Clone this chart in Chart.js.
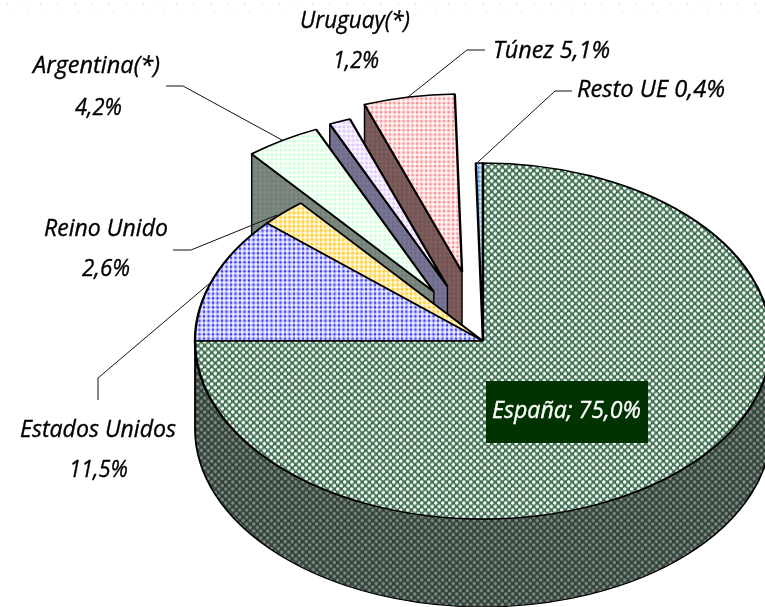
<!DOCTYPE html>
<html><head><meta charset="utf-8">
<style>html,body{margin:0;padding:0;background:#fff}canvas{display:block}</style>
<script src="https://cdn.jsdelivr.net/npm/chart.js@4"></script>
</head><body><canvas id="c" width="765" height="607"></canvas>
<script>
const categories = ['España','Estados Unidos','Reino Unido','Argentina(*)','Uruguay(*)','Túnez','Resto UE'];
const values = [75.0,11.5,2.6,4.2,1.2,5.1,0.4];
const explode = [0,0,0,0.325,0.33,0.395,0];
const tilt = 0.618, depth = 88, FONT = '"Open Sans"';

function tile(size, paint){
  const c = document.createElement('canvas'); c.width = c.height = size;
  const g = c.getContext('2d'); paint(g);
  const p = g.createPattern(c,'repeat');
  p.setTransform(new DOMMatrix().scale(1,1/tilt));
  return p;
}
function dots(bg, mid, dot){
  return tile(9, g=>{
    g.fillStyle=bg; g.fillRect(0,0,9,9);
    g.fillStyle=mid;
    for(const o of [0.5,5]){ g.fillRect(o,0,2,9); g.fillRect(0,o,9,2); }
    g.fillStyle=dot;
    for(const x of [0.5,5]) for(const y of [0.5,5]) g.fillRect(x,y,2,2);
  });
}
function weave(bg, spot){
  return tile(7, g=>{
    g.fillStyle=bg; g.fillRect(0,0,7,7);
    g.fillStyle=spot;
    for(const [x,y] of [[1,1],[4.5,4.5]]){
      g.fillRect(x-0.2,y-1,1.9,3.5); g.fillRect(x-1,y-0.2,3.5,1.9);
    }
  });
}
const faces = [
  weave('#3f7052','#ffffff'),
  dots('#f0f0ff','#c0c0ff','#3434ff'),
  dots('#fff8e4','#ffe8a0','#ffc81e'),
  dots('#fdfffd','#effff3','#c6ffd4'),
  dots('#fdfaff','#f3e8ff','#d8bcff'),
  dots('#fff8f8','#ffdcdc','#ff8888'),
  dots('#dcebf8','#9cc6ec','#3f8fd8')
];
const walls = [
  weave('#2c4436','#858585'),
  null,null,
  dots('#818c84','#79857c','#6f7d72'),
  dots('#7b7794','#757190','#6d6888'),
  dots('#80605f','#785858','#705050'),
  null
];
const pct = v => v.toFixed(1).replace('.',',')+'%';
const labels = [
  {lines:[categories[1], pct(values[1])], boxes:[[20,176,437],[69,128,477]]},
  {lines:[categories[2], pct(values[2])], boxes:[[44,168,236],[82,130,276]]},
  {lines:[categories[3], pct(values[3])], boxes:[[33,160,73],[75,122,115]]},
  {lines:[categories[4], pct(values[4])], boxes:[[300,410,28],[333,379,68]]},
  {lines:[categories[5]+' '+pct(values[5])], boxes:[[493,610,58]]},
  {lines:[categories[6]+' '+pct(values[6])], boxes:[[577,725,97]]}
];
const leaders = [
  [[98,400],[98,378],[210,283]],
  [[173,250],[191,250],[277,215]],
  [[166,86],[183,86],[282,140]],
  [[485,50],[467,50],[408,97]],
  [[572,91],[555,91],[478,162]]
];

function fitted(ctx, text, x0, x1, base, size){
  ctx.save();
  ctx.font = `italic ${size}px ${FONT}`;
  const w = ctx.measureText(text).width;
  ctx.translate((x0+x1)/2, base);
  ctx.scale((x1-x0)/w, 1);
  ctx.textAlign='center'; ctx.textBaseline='alphabetic';
  ctx.fillText(text,0,0);
  ctx.lineWidth=0.35; ctx.strokeStyle=ctx.fillStyle; ctx.strokeText(text,0,0);
  ctx.restore();
}

const pie3d = {
  id:'pie3d',
  beforeDraw(chart){
    const ctx = chart.ctx;
    ctx.save();
    for(let x=6;x<765;x+=17){
      ctx.fillStyle = (Math.round((x-6)/17)%2)? '#ffecec':'#ffe2e2';
      ctx.fillRect(x,2.5,2,2);
      ctx.fillStyle = '#eef8f0';
      ctx.fillRect(x+4,11.5,2,2);
    }
    ctx.restore();
  },
  beforeDatasetDraw(chart,args){
    const ctx = chart.ctx, arcs = args.meta.data;
    const cx = arcs[0].x, cy = arcs[0].y, R = arcs[0].outerRadius;
    const d = depth/tilt;
    const off = i=>{
      const a=(arcs[i].startAngle+arcs[i].endAngle)/2;
      return [Math.cos(a)*R*explode[i], Math.sin(a)*R*explode[i]];
    };
    ctx.save();
    ctx.translate(cx,cy); ctx.scale(1,tilt); ctx.translate(-cx,-cy);
    ctx.lineJoin='round';
    ctx.beginPath();
    ctx.arc(cx,cy,R,0,Math.PI,false);
    ctx.lineTo(cx-R,cy+d);
    ctx.arc(cx,cy+d,R,Math.PI,0,true);
    ctx.closePath();
    ctx.fillStyle=walls[0]; ctx.fill();
    ctx.strokeStyle='#000'; ctx.lineWidth=1.8; ctx.stroke();
    for(const i of [5,4,3]){
      const [ox,oy]=off(i), a=arcs[i].startAngle;
      const ax=cx+ox, ay=cy+oy, bx=ax+Math.cos(a)*R, by=ay+Math.sin(a)*R;
      ctx.beginPath();
      ctx.moveTo(ax,ay); ctx.lineTo(bx,by); ctx.lineTo(bx,by+d); ctx.lineTo(ax,ay+d); ctx.closePath();
      ctx.fillStyle=walls[i]; ctx.fill();
      ctx.strokeStyle='#000'; ctx.lineWidth=1.4; ctx.stroke();
      ctx.save(); ctx.translate(ox,oy); arcs[i].draw(ctx); ctx.restore();
    }
    for(const i of [6,2,1,0]) arcs[i].draw(ctx);
    ctx.restore();
    return false;
  },
  afterDatasetsDraw(chart){
    const ctx = chart.ctx;
    ctx.save();
    ctx.strokeStyle='#111'; ctx.lineWidth=1;
    for(const l of leaders){
      ctx.beginPath();
      l.forEach(([x,y],k)=> k? ctx.lineTo(x,y):ctx.moveTo(x,y));
      ctx.stroke();
    }
    ctx.fillStyle='#000';
    for(const lb of labels) lb.lines.forEach((t,k)=>{
      const [x0,x1,b]=lb.boxes[k];
      fitted(ctx,t,x0,x1,b,24.5);
    });
    ctx.fillStyle='#003300'; ctx.fillRect(486,381,162,62);
    ctx.fillStyle='#fff';
    fitted(ctx, categories[0]+'; '+pct(values[0]), 492,641,418,24.5);
    ctx.restore();
  }
};

new Chart(document.getElementById('c'),{
  type:'pie',
  data:{labels:categories,datasets:[{
    data:values, backgroundColor:faces, borderColor:'#000', borderWidth:2.4
  }]},
  options:{
    responsive:false, animation:false, rotation:0, radius:288,
    layout:{padding:{left:201,top:75}},
    plugins:{legend:{display:false},tooltip:{enabled:false}},
    events:[]
  },
  plugins:[pie3d]
});
</script></body></html>
